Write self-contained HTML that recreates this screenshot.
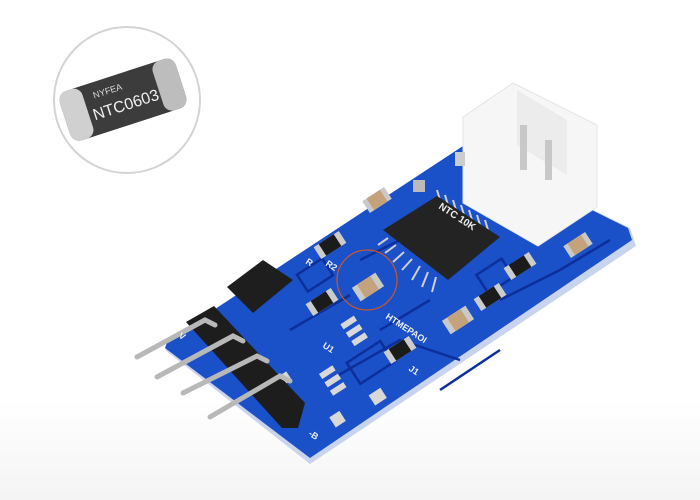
<!DOCTYPE html>
<html><head><style>body{margin:0;background:#fff}svg{display:block}</style></head><body>
<svg width="700" height="500" viewBox="0 0 700 500" xmlns="http://www.w3.org/2000/svg">
<defs>
<linearGradient id="bg" x1="0" y1="0" x2="0" y2="1"><stop offset="0.8" stop-color="#fff"/><stop offset="1" stop-color="#f4f4f4"/></linearGradient>
</defs>
<rect width="700" height="500" fill="url(#bg)"/>
<circle cx="127" cy="100" r="73" fill="#fff" stroke="#d4d4d4" stroke-width="2"/>
<g transform="rotate(-18 122 100)">
<rect x="62" y="74" width="122" height="52" rx="10" fill="#3c3c3c"/>
<rect x="62" y="74" width="24" height="52" rx="9" fill="#d0d0d0"/>
<rect x="160" y="74" width="24" height="52" rx="9" fill="#bdbdbd"/>
<text x="96" y="90" font-family="Liberation Sans, sans-serif" font-size="9" fill="#ddd">NYFEA</text>
<text x="90" y="111" font-family="Liberation Sans, sans-serif" font-size="16" fill="#f0f0f0">NTC0603</text>
</g>
<polygon points="165,350 463,146 630,228 636,246 310,464" fill="#c8d4ee"/>
<polygon points="168,340 463,146 628,228 632,240 310,458 165,348" fill="#1a50c8"/>
<g stroke="#0d2f99" stroke-width="2.5" fill="none">
<path d="M290,330 L350,295"/><path d="M330,380 L400,340 L460,360"/>
<path d="M360,260 L400,240"/><path d="M500,300 L560,270 L610,240"/>
<path d="M380,330 L430,300"/><path d="M440,390 L500,350"/>
<rect x="300" y="265" width="30" height="20" transform="rotate(-33 315 275)"/>
<rect x="480" y="265" width="30" height="22" transform="rotate(-33 495 276)"/>
<rect x="350" y="350" width="40" height="25" transform="rotate(-33 370 362)"/>
</g>
<polygon points="463,117 513,83 597,125 597,207 538,246 463,203" fill="#f6f6f6" stroke="#e4e4e4"/>
<polygon points="517,90 567,120 567,175 517,145" fill="#ececec"/>
<rect x="520" y="125" width="7" height="45" fill="#c8c8c8"/><rect x="545" y="140" width="7" height="40" fill="#c8c8c8"/>
<g stroke="#d0d0d0" stroke-width="2">
<line x1="440" y1="200" x2="437" y2="190"/><line x1="448" y1="205" x2="445" y2="195"/><line x1="456" y1="210" x2="453" y2="200"/><line x1="464" y1="215" x2="461" y2="205"/><line x1="472" y1="220" x2="469" y2="210"/><line x1="480" y1="225" x2="477" y2="215"/><line x1="488" y1="230" x2="485" y2="220"/>
<line x1="388" y1="238" x2="378" y2="245"/><line x1="396" y1="245" x2="385" y2="253"/><line x1="404" y1="252" x2="393" y2="262"/><line x1="412" y1="259" x2="402" y2="270"/><line x1="420" y1="266" x2="412" y2="280"/><line x1="428" y1="272" x2="422" y2="287"/><line x1="436" y1="277" x2="432" y2="292"/>
</g>
<polygon points="383,230 437,196 500,237 448,280" fill="#232323"/>
<polygon points="227,287 263,260 293,280 253,313" fill="#1e1e1e"/>
<g>
<g transform="rotate(-33 377 200)"><rect x="364" y="193" width="26" height="14" fill="#c9c9c9"/><rect x="369" y="193" width="16" height="14" fill="#c4a37c"/></g>
<g transform="rotate(-33 368 287)"><rect x="354" y="279" width="28" height="16" fill="#c9c9c9"/><rect x="360" y="279" width="16" height="16" fill="#c4a37c"/></g>
<g transform="rotate(-33 458 320)"><rect x="444" y="312" width="28" height="16" fill="#c9c9c9"/><rect x="450" y="312" width="16" height="16" fill="#c4a37c"/></g>
<g transform="rotate(-33 578 245)"><rect x="565" y="238" width="26" height="14" fill="#c9c9c9"/><rect x="570" y="238" width="16" height="14" fill="#c4a37c"/></g>
<g transform="rotate(-33 330 245)"><rect x="315" y="238" width="30" height="14" fill="#ccc"/><rect x="321" y="238" width="18" height="14" fill="#1b1b1b"/></g>
<g transform="rotate(-33 322 302)"><rect x="307" y="295" width="30" height="14" fill="#ccc"/><rect x="313" y="295" width="18" height="14" fill="#1b1b1b"/></g>
<g transform="rotate(-33 520 266)"><rect x="505" y="259" width="30" height="14" fill="#ccc"/><rect x="511" y="259" width="18" height="14" fill="#1b1b1b"/></g>
<g transform="rotate(-33 490 297)"><rect x="475" y="290" width="30" height="14" fill="#ccc"/><rect x="481" y="290" width="18" height="14" fill="#1b1b1b"/></g>
<g transform="rotate(-33 400 350)"><rect x="385" y="343" width="30" height="14" fill="#ccc"/><rect x="391" y="343" width="18" height="14" fill="#1b1b1b"/></g>
<rect x="455" y="152" width="10" height="14" fill="#ccc"/><rect x="413" y="180" width="12" height="12" fill="#bbb"/>
</g>
<circle cx="367" cy="280" r="30" fill="none" stroke="#c8582a" stroke-width="1.2"/>
<g fill="#d8d8d8" transform="rotate(-33 350 330)">
<rect x="345" y="320" width="16" height="6"/><rect x="345" y="330" width="16" height="6"/><rect x="345" y="340" width="16" height="6"/>
<rect x="300" y="350" width="16" height="6"/><rect x="300" y="360" width="16" height="6"/><rect x="300" y="370" width="16" height="6"/>
<rect x="262" y="330" width="12" height="10"/><rect x="330" y="395" width="14" height="12"/><rect x="285" y="392" width="12" height="12"/>
</g>
<polygon points="186,322 214,306 305,403 298,428 282,428" fill="#1d1d1d"/>
<g stroke="#b8b8b8" stroke-width="5" stroke-linecap="round" fill="none">
<path d="M137,357 L205,320 L215,325"/>
<path d="M157,377 L233,336 L243,341"/>
<path d="M183,393 L257,356 L267,361"/>
<path d="M210,417 L280,376 L290,381"/>
</g>
<text x="438" y="208" font-family="Liberation Sans, sans-serif" font-size="10" font-weight="bold" fill="#eee" transform="rotate(33 438 208)">NTC 10K</text>
<text x="385" y="318" font-family="Liberation Sans, sans-serif" font-size="9" font-weight="bold" fill="#eee" transform="rotate(33 385 318)">HTMEPAOI</text>
<text x="325" y="265" font-family="Liberation Sans, sans-serif" font-size="9" font-weight="bold" fill="#eee" transform="rotate(33 325 265)">R2</text>
<text x="305" y="263" font-family="Liberation Sans, sans-serif" font-size="9" font-weight="bold" fill="#eee" transform="rotate(33 305 263)">R</text>
<text x="178" y="337" font-family="Liberation Sans, sans-serif" font-size="9" font-weight="bold" fill="#eee" transform="rotate(33 178 337)">V</text>
<text x="308" y="435" font-family="Liberation Sans, sans-serif" font-size="9" font-weight="bold" fill="#eee" transform="rotate(33 308 435)">-B</text>
<text x="408" y="370" font-family="Liberation Sans, sans-serif" font-size="9" font-weight="bold" fill="#eee" transform="rotate(33 408 370)">J1</text>
<text x="322" y="347" font-family="Liberation Sans, sans-serif" font-size="9" font-weight="bold" fill="#eee" transform="rotate(33 322 347)">U1</text>
</svg>
</body></html>
